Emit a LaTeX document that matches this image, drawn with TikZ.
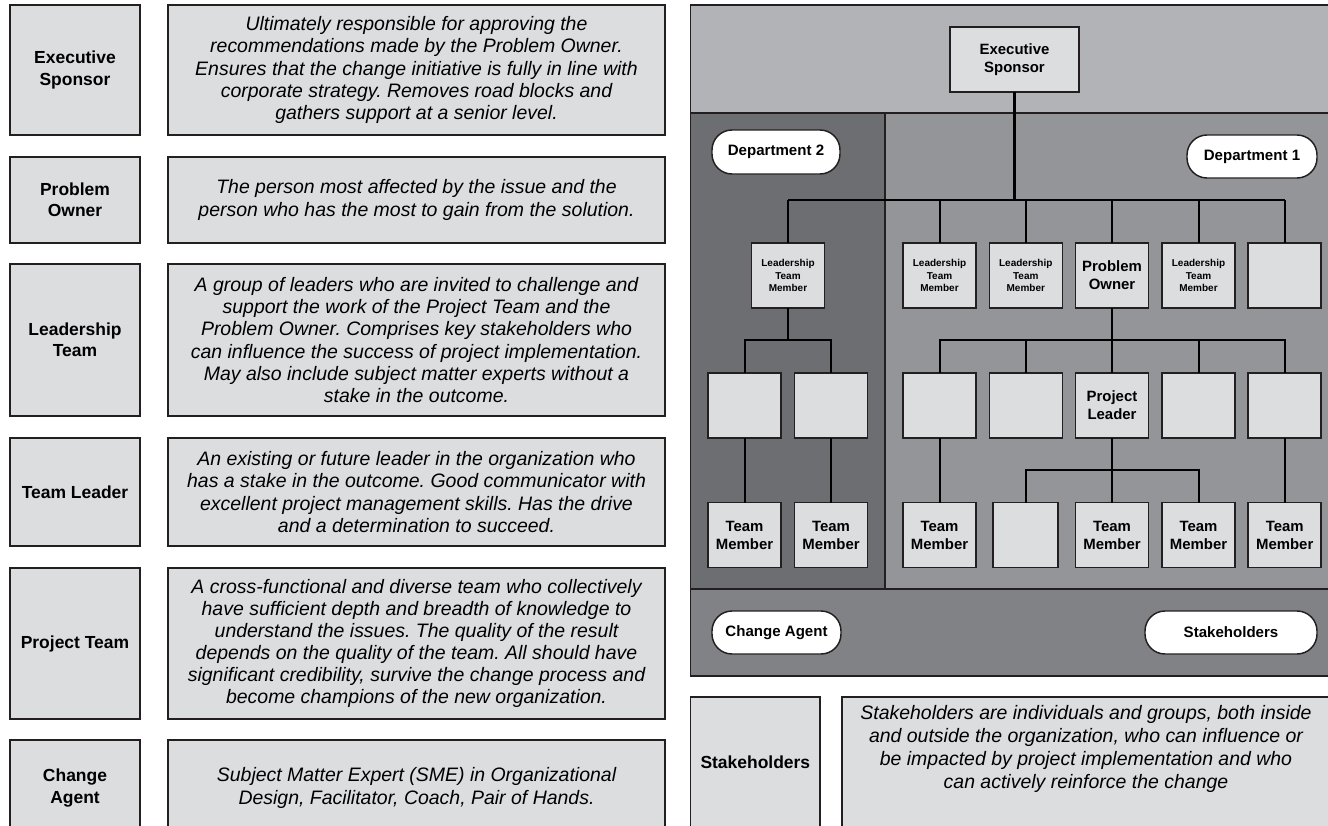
\documentclass[tikz,border=0pt]{standalone}
\usepackage{fontspec}
\setmainfont{Liberation Sans}
\usetikzlibrary{calc}
\definecolor{boxfill}{HTML}{DCDDDF}
\definecolor{edge}{HTML}{231F20}
\definecolor{topband}{HTML}{B1B3B6}
\definecolor{deptone}{HTML}{939598}
\definecolor{depttwo}{HTML}{6D6E71}
\definecolor{botband}{HTML}{808285}
\newcommand\setfs[2]{\fontsize{#1}{#2}\selectfont}
\begin{document}
\frenchspacing
\begin{tikzpicture}[x=0.75pt,y=-0.75pt,
  sz/.style 2 args={minimum width=#1*0.75pt, minimum height=#2*0.75pt},
  card/.style={rectangle, draw=edge, fill=boxfill, line width=1.1pt, inner sep=0pt, outer sep=0pt, align=center},
  rolebox/.style={card, font=\bfseries\setfs{13.1pt}{15.8pt}},
  descbox/.style={card, font=\itshape\setfs{14.6pt}{16.6pt}},
  desctext/.style={inner sep=0pt, align=center, font=\itshape\setfs{14.6pt}{17.2pt}},
  orgbox/.style={card, sz={73}{65}},
  bigtxt/.style={font=\bfseries\setfs{11.2pt}{13.5pt}},
  smalltxt/.style={font=\bfseries\setfs{7.5pt}{9.4pt}},
  pill/.style={rectangle, rounded corners=15pt, draw=edge, fill=white, line width=1.1pt, inner sep=0pt, font=\bfseries\setfs{11.3pt}{13pt}},
  link/.style={draw=black, line width=1.5pt},
  mainlink/.style={draw=black, line width=2.2pt},
  panelline/.style={draw=edge, line width=1.1pt}]

\useasboundingbox (0,0) rectangle (1328,825);
\clip (0,0) rectangle (1328,825);
\fill[white] (0,0) rectangle (1328,825);

% ---------- role descriptions (left column) ----------
\node[rolebox, sz={130}{130}] (rES) at (75,70) {Executive\\Sponsor};
\node[descbox, sz={497}{130}] (dES) at (416.5,70) {Ultimately responsible for approving the\\recommendations made by the Problem Owner.\\Ensures that the change initiative is fully in line with\\corporate strategy. Removes road blocks and\\gathers support at a senior level.};

\node[rolebox, sz={130}{86}] (rPO) at (75,200) {Problem\\Owner};
\node[descbox, sz={497}{86}] (dPO) at (416.5,200) {The person most affected by the issue and the\\person who has the most to gain from the solution.};

\node[rolebox, sz={130}{152}] (rLT) at (75,340) {Leadership\\Team};
\node[descbox, sz={497}{152}] (dLT) at (416.5,340) {A group of leaders who are invited to challenge and\\support the work of the Project Team and the\\Problem Owner. Comprises key stakeholders who\\can influence the success of project implementation.\\May also include subject matter experts without a\\stake in the outcome.};

\node[rolebox, sz={130}{108}] (rTL) at (75,492) {Team Leader};
\node[descbox, sz={497}{108}] (dTL) at (416.5,492) {An existing or future leader in the organization who\\has a stake in the outcome. Good communicator with\\excellent project management skills. Has the drive\\and a determination to succeed.};

\node[rolebox, sz={130}{151}] (rPT) at (75,643.5) {Project Team};
\node[descbox, sz={497}{151}] (dPT) at (416.5,643.5) {A cross-functional and diverse team who collectively\\have sufficient depth and breadth of knowledge to\\understand the issues. The quality of the result\\depends on the quality of the team. All should have\\significant credibility, survive the change process and\\become champions of the new organization.};

\node[rolebox, sz={130}{96}] (rCA) at (75,788) {Change\\Agent};
\node[descbox, sz={497}{96}] (dCA) at (416.5,788) {Subject Matter Expert (SME) in Organizational\\Design, Facilitator, Coach, Pair of Hands.};

% ---------- organisation panel ----------
\fill[topband] (690.7,5) rectangle (1330,113);
\fill[depttwo] (690.7,113) rectangle (885,589);
\fill[deptone] (885,113) rectangle (1330,589);
\fill[botband] (690.7,589) rectangle (1330,676);
\draw[panelline] (690.7,5) rectangle (1330,676);
\draw[panelline] (690.7,113) -- (1330,113);
\draw[panelline] (690.7,589) -- (1330,589);
\draw[panelline] (885,113) -- (885,589);

\node[pill, sz={128}{44}] (pD2) at (776,152) {Department 2};
\node[pill, sz={130}{43}] (pD1) at (1252,156.5) {Department 1};
\node[pill, sz={129}{43}] (pCA) at (776.5,632.5) {Change Agent};
\node[pill, sz={172}{43}] (pSH) at (1231,632.5) {Stakeholders};

% top of the hierarchy
\node[card, sz={129}{65}, bigtxt] (cES) at (1014.5,59.5) {Executive\\Sponsor};

% first level
\node[orgbox, smalltxt] (aL) at (788,275.5) {Leadership\\Team\\Member};
\node[orgbox, smalltxt] (bA) at (939.5,275.5) {Leadership\\Team\\Member};
\node[orgbox, smalltxt] (bB) at (1025.8,275.5) {Leadership\\Team\\Member};
\node[orgbox, bigtxt] (bPO) at (1112,275.5) {Problem\\Owner};
\node[orgbox, smalltxt] (bD) at (1198.5,275.5) {Leadership\\Team\\Member};
\node[orgbox] (bE) at (1284.7,275.5) {};

% second level
\node[orgbox] (aA) at (744.5,405.5) {};
\node[orgbox] (aB) at (831,405.5) {};
\node[orgbox] (cA) at (939.5,405.5) {};
\node[orgbox] (cB) at (1025.8,405.5) {};
\node[orgbox, bigtxt] (cPL) at (1112,405.5) {Project\\Leader};
\node[orgbox] (cD) at (1198.5,405.5) {};
\node[orgbox] (cE) at (1284.7,405.5) {};

% third level
\node[orgbox, bigtxt] (tA) at (744.5,535) {Team\\Member};
\node[orgbox, bigtxt] (tB) at (831,535) {Team\\Member};
\node[orgbox, bigtxt] (uA) at (939.5,535) {Team\\Member};
\node[card, sz={65}{65}] (uB) at (1025.6,535) {};
\node[orgbox, bigtxt] (uC) at (1112,535) {Team\\Member};
\node[orgbox, bigtxt] (uD) at (1198.5,535) {Team\\Member};
\node[orgbox, bigtxt] (uE) at (1284.7,535) {Team\\Member};

% connectors
\coordinate (busTop) at (1014,200);
\coordinate (busTwo) at (788,340);
\coordinate (busOne) at (1112,340);
\coordinate (busPL) at (1112,470);

\draw[mainlink] (cES.south) -- (cES.south |- busTop);
\draw[mainlink] (aL.north |- busTop) -- (bE.north |- busTop);
\foreach \n in {aL,bA,bB,bPO,bD,bE}
  \draw[link] (\n.north) -- (\n.north |- busTop);

\draw[link] (aL.south) -- (aL.south |- busTwo);
\draw[link] (aA.north) -- (aA.north |- busTwo) -- (aB.north |- busTwo) -- (aB.north);
\draw[link] (aA.south) -- (tA.north);
\draw[link] (aB.south) -- (tB.north);

\draw[link] (bPO.south) -- (cPL.north);
\draw[link] (cA.north) -- (cA.north |- busOne) -- (cE.north |- busOne) -- (cE.north);
\draw[mainlink] (cB.north |- busOne) -- (cD.north |- busOne);
\draw[link] (cB.north) -- (cB.north |- busOne);
\draw[link] (cD.north) -- (cD.north |- busOne);
\draw[link] (cA.south) -- (uA.north);
\draw[link] (cE.south) -- (uE.north);

\draw[link] (cPL.south) -- (uC.north);
\draw[link] (uB.north) -- (uB.north |- busPL) -- (uD.north |- busPL) -- (uD.north);

% ---------- stakeholders ----------
\node[rolebox, sz={129.3}{130}] (rSH) at (755.35,762) {Stakeholders};
\node[card, sz={488}{140}] (dSH) at (1086,767) {};
\node[desctext] (tSH) at (1086,749) {Stakeholders are individuals and groups, both inside\\and outside the organization, who can influence or\\be impacted by project implementation and who\\can actively reinforce the change};

\end{tikzpicture}
\end{document}
